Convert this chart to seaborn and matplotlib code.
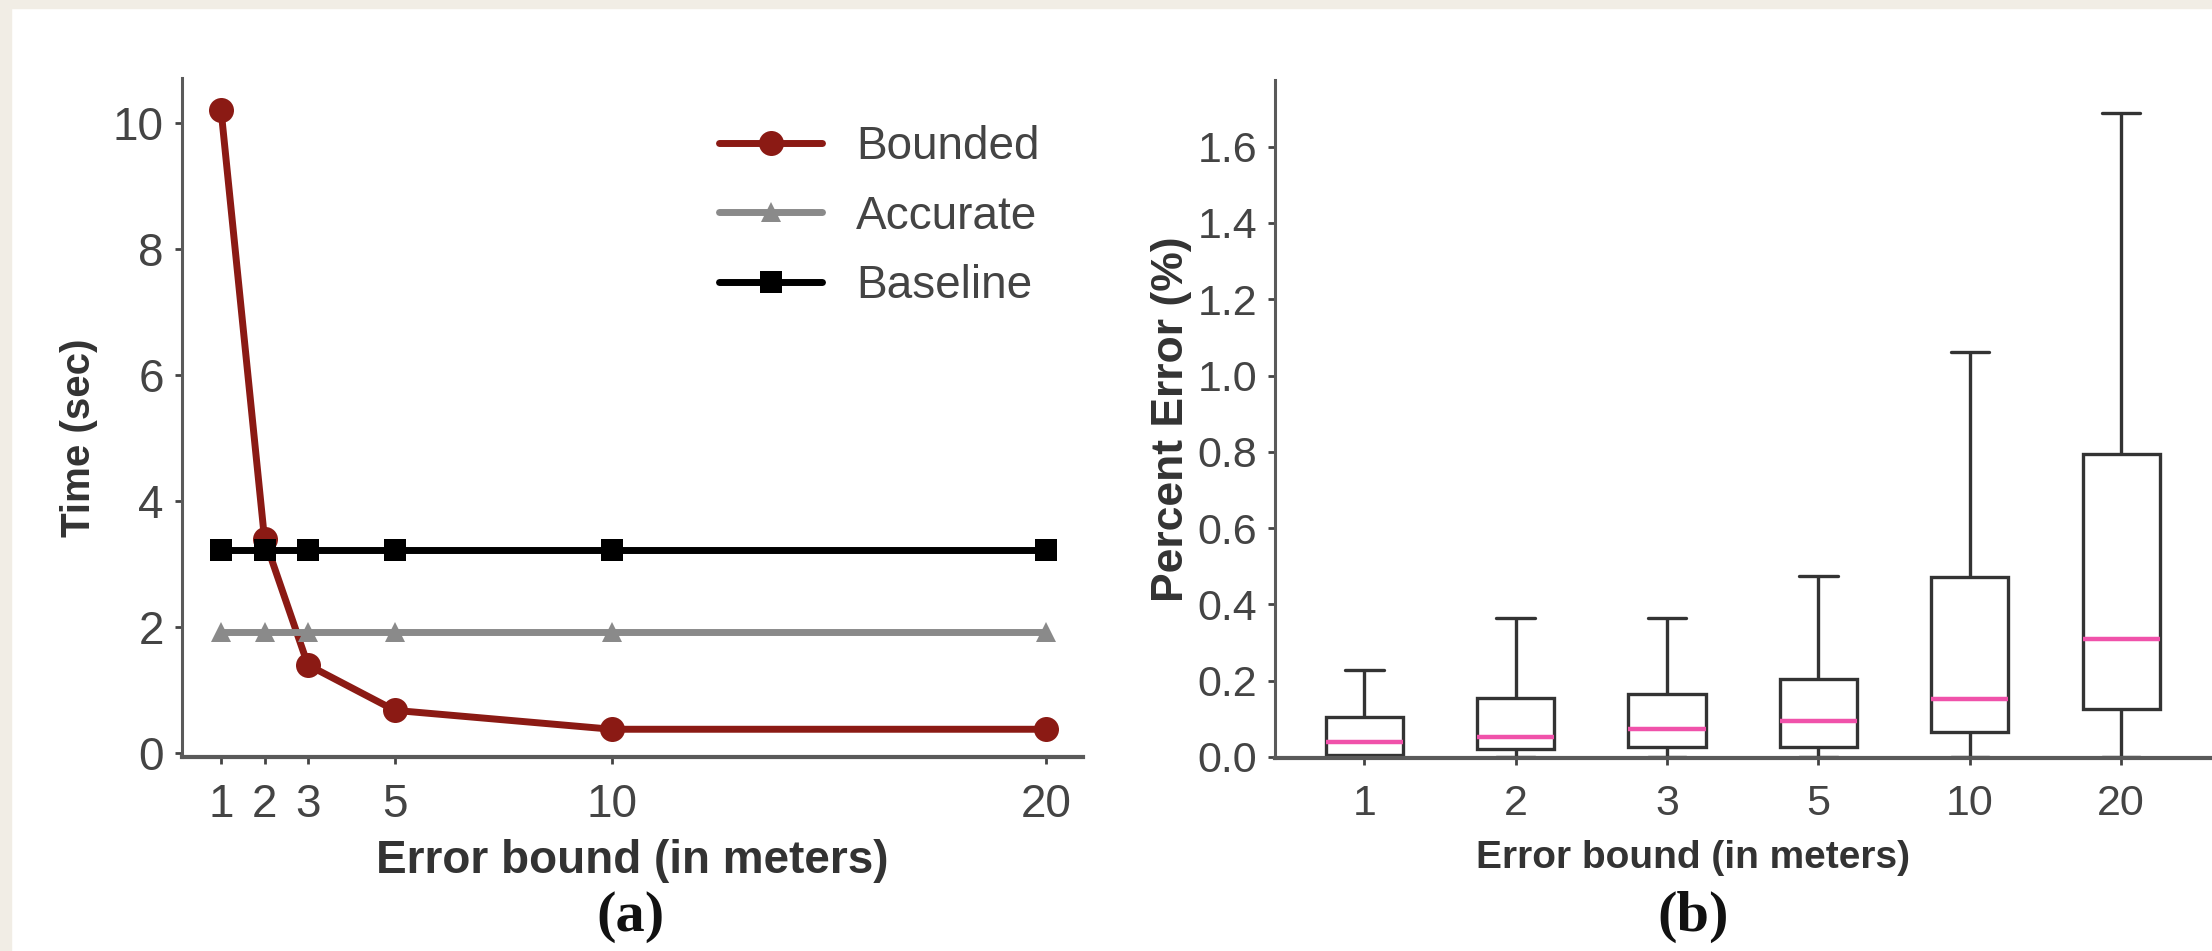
import matplotlib
matplotlib.use("Agg")
import matplotlib.pyplot as plt
from matplotlib.patches import Rectangle
import seaborn as sns
import pandas as pd

# ---- data ----
bounds = [1, 2, 3, 5, 10, 20]
bounded = [10.2, 3.4, 1.4, 0.68, 0.38, 0.38]
accurate = [1.93, 1.93, 1.93, 1.93, 1.93, 1.93]
baseline = [3.23, 3.23, 3.23, 3.23, 3.23, 3.23]

box_labels = ['1', '2', '3', '5', '10', '20']
# five-number summaries per bound: low whisker, Q1, median, Q3, high whisker
whisker_low = [0.0, 0.0, 0.0, 0.0, 0.0, 0.0]
q1 = [0.005, 0.02, 0.025, 0.025, 0.065, 0.125]
median = [0.04, 0.052, 0.072, 0.095, 0.152, 0.31]
q3 = [0.105, 0.154, 0.165, 0.205, 0.472, 0.795]
whisker_high = [0.227, 0.365, 0.365, 0.475, 1.061, 1.689]

sns.set_theme(style="ticks")
plt.rcParams['font.family'] = ['Liberation Sans', 'DejaVu Sans']

text_col = '#333333'
tick_col = '#444444'
spine_col = '#5a5a5a'

fig = plt.figure(figsize=(22.12, 9.51), dpi=100)
fig.patch.set_facecolor('white')
# paper-like beige strips at the top and left edge
fig.patches.append(Rectangle((0, 1 - 8 / 951), 1, 8 / 951, transform=fig.transFigure,
                             color='#f1ede5', zorder=-5))
fig.patches.append(Rectangle((0, 0), 11 / 2212, 1, transform=fig.transFigure,
                             color='#f1ede5', zorder=-5))

ax1 = fig.add_axes([182 / 2212, 1 - 757 / 951, 901 / 2212, 679 / 951])
ax2 = fig.add_axes([1275 / 2212, 1 - 758 / 951, 937 / 2212, 678 / 951])

# ---- (a) time vs error bound ----
sns.lineplot(x=bounds, y=bounded, ax=ax1, color='#8b1a14', lw=5, marker='o',
             markersize=18, markeredgewidth=0, label='Bounded')
sns.lineplot(x=bounds, y=accurate, ax=ax1, color='#8a8a8a', lw=5, marker='^',
             markersize=15, markeredgewidth=0, label='Accurate')
sns.lineplot(x=bounds, y=baseline, ax=ax1, color='black', lw=5, marker='s',
             markersize=16, markeredgewidth=0, label='Baseline')

ax1.set_xlim(0.1, 20.85)
ax1.set_ylim(-0.06, 10.71)
ax1.set_xticks(bounds)
ax1.set_yticks([0, 2, 4, 6, 8, 10])
ax1.set_xlabel('Error bound (in meters)', fontsize=33, fontweight='bold', color=text_col)
ax1.set_ylabel('Time (sec)', fontsize=29, fontweight='bold', color=text_col)
ax1.xaxis.set_label_coords(0.5, -0.121)
ax1.yaxis.set_label_coords(-0.093, 0.47)
leg = ax1.legend(loc='upper left', bbox_to_anchor=(0.596, 0.931), frameon=False,
                 fontsize=33, handlelength=2.25, handletextpad=0.74, labelspacing=0.56,
                 borderaxespad=0, borderpad=0)
for t in leg.get_texts():
    t.set_color(tick_col)

# ---- (b) percent error boxes ----
rows = []
for i, lab in enumerate(box_labels):
    for v in (whisker_low[i], q1[i], median[i], q3[i], whisker_high[i]):
        rows.append({'bound': lab, 'err': v})
df = pd.DataFrame(rows)

sns.boxplot(data=df, x='bound', y='err', order=box_labels, ax=ax2, whis=(0, 100),
            width=0.51, color='white', linecolor='#333333', linewidth=2.4,
            showfliers=False,
            medianprops=dict(color='#f052aa', linewidth=3.2))

ax2.set_xlim(-0.59, 5.6)
ax2.set_ylim(-0.003, 1.775)
ax2.set_yticks([0.0, 0.2, 0.4, 0.6, 0.8, 1.0, 1.2, 1.4, 1.6])
ax2.set_yticklabels(['0.0', '0.2', '0.4', '0.6', '0.8', '1.0', '1.2', '1.4', '1.6'])
ax2.set_xlabel('Error bound (in meters)', fontsize=28, fontweight='bold', color=text_col)
ax2.set_ylabel('Percent Error (%)', fontsize=32, fontweight='bold', color=text_col)
ax2.xaxis.set_label_coords(0.446, -0.121)
ax2.yaxis.set_label_coords(-0.089, 0.5)

for ax in (ax1, ax2):
    sns.despine(ax=ax)
    ax.spines['left'].set_color(spine_col)
    ax.spines['bottom'].set_color(spine_col)
    ax.spines['left'].set_linewidth(2.2)
    ax.spines['bottom'].set_linewidth(3)
    ax.tick_params(axis='both', colors=tick_col, length=5, width=2)
    ax.tick_params(axis='x', pad=14)
    ax.tick_params(axis='y', pad=8)
    ax.set_facecolor('white')
ax1.tick_params(axis='both', labelsize=33)
ax2.tick_params(axis='both', labelsize=31)

fig.text(631 / 2212, 1 - 917 / 951, '(a)', ha='center', va='center', fontsize=42,
         fontweight='bold', family=['Liberation Serif', 'DejaVu Serif'], color='#111111')
fig.text(1693 / 2212, 1 - 917 / 951, '(b)', ha='center', va='center', fontsize=42,
         fontweight='bold', family=['Liberation Serif', 'DejaVu Serif'], color='#111111')

fig.savefig('out.png', dpi=100, facecolor=fig.get_facecolor())
